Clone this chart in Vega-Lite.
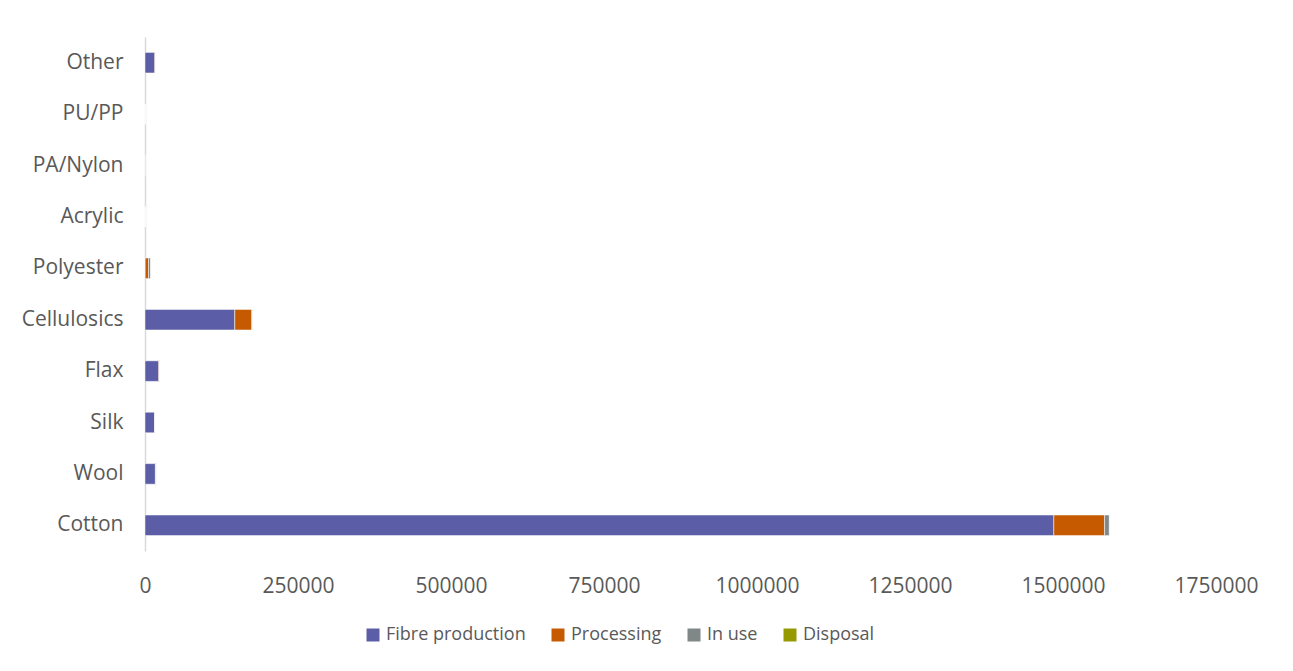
{
  "$schema": "https://vega.github.io/schema/vega-lite/v6.json",
  "autosize": {"type": "none"},
  "padding": {"left": 145, "top": 37, "right": 77, "bottom": 120},
  "width": 1071,
  "height": 514,
  "background": "white",
  "config": {
    "view": {"stroke": null},
    "font": "Open Sans"
  },
  "data": {
    "values": [
      {"fibre": "Cotton", "stage": "Fibre production", "value": 1485000},
      {"fibre": "Cotton", "stage": "Processing", "value": 83000},
      {"fibre": "Cotton", "stage": "In use", "value": 7700},
      {"fibre": "Cotton", "stage": "Disposal", "value": 300},
      {"fibre": "Wool", "stage": "Fibre production", "value": 17000},
      {"fibre": "Wool", "stage": "Processing", "value": 1000},
      {"fibre": "Wool", "stage": "In use", "value": 300},
      {"fibre": "Wool", "stage": "Disposal", "value": 50},
      {"fibre": "Silk", "stage": "Fibre production", "value": 16000},
      {"fibre": "Silk", "stage": "Processing", "value": 300},
      {"fibre": "Silk", "stage": "In use", "value": 100},
      {"fibre": "Silk", "stage": "Disposal", "value": 20},
      {"fibre": "Flax", "stage": "Fibre production", "value": 22500},
      {"fibre": "Flax", "stage": "Processing", "value": 1000},
      {"fibre": "Flax", "stage": "In use", "value": 300},
      {"fibre": "Flax", "stage": "Disposal", "value": 50},
      {"fibre": "Cellulosics", "stage": "Fibre production", "value": 146700},
      {"fibre": "Cellulosics", "stage": "Processing", "value": 27800},
      {"fibre": "Cellulosics", "stage": "In use", "value": 1000},
      {"fibre": "Cellulosics", "stage": "Disposal", "value": 100},
      {"fibre": "Polyester", "stage": "Fibre production", "value": 300},
      {"fibre": "Polyester", "stage": "Processing", "value": 5500},
      {"fibre": "Polyester", "stage": "In use", "value": 3500},
      {"fibre": "Polyester", "stage": "Disposal", "value": 100},
      {"fibre": "Acrylic", "stage": "Fibre production", "value": 100},
      {"fibre": "Acrylic", "stage": "Processing", "value": 200},
      {"fibre": "Acrylic", "stage": "In use", "value": 400},
      {"fibre": "Acrylic", "stage": "Disposal", "value": 20},
      {"fibre": "PA/Nylon", "stage": "Fibre production", "value": 300},
      {"fibre": "PA/Nylon", "stage": "Processing", "value": 1200},
      {"fibre": "PA/Nylon", "stage": "In use", "value": 300},
      {"fibre": "PA/Nylon", "stage": "Disposal", "value": 20},
      {"fibre": "PU/PP", "stage": "Fibre production", "value": 100},
      {"fibre": "PU/PP", "stage": "Processing", "value": 200},
      {"fibre": "PU/PP", "stage": "In use", "value": 400},
      {"fibre": "PU/PP", "stage": "Disposal", "value": 20},
      {"fibre": "Other", "stage": "Fibre production", "value": 16000},
      {"fibre": "Other", "stage": "Processing", "value": 1000},
      {"fibre": "Other", "stage": "In use", "value": 300},
      {"fibre": "Other", "stage": "Disposal", "value": 50}
    ]
  },
  "transform": [
    {"calculate": "indexof(['Fibre production','Processing','In use','Disposal'], datum.stage)", "as": "order"}
  ],
  "mark": {"type": "bar", "stroke": "white", "strokeWidth": 0.5},
  "encoding": {
    "y": {
      "field": "fibre",
      "type": "nominal",
      "sort": ["Other", "PU/PP", "PA/Nylon", "Acrylic", "Polyester", "Cellulosics", "Flax", "Silk", "Wool", "Cotton"],
      "scale": {"paddingInner": 0.6, "paddingOuter": 0.3},
      "axis": {
        "title": null,
        "ticks": false,
        "domainColor": "#d9d9d9",
        "domainWidth": 1.5,
        "labelFontSize": 21,
        "labelColor": "#595959",
        "labelPadding": 22
      }
    },
    "x": {
      "field": "value",
      "type": "quantitative",
      "aggregate": "sum",
      "stack": "zero",
      "scale": {"domain": [0, 1750000], "nice": false},
      "axis": {
        "title": null,
        "values": [0, 250000, 500000, 750000, 1000000, 1250000, 1500000, 1750000],
        "format": "d",
        "grid": false,
        "ticks": false,
        "domain": false,
        "labelFontSize": 21,
        "labelColor": "#595959",
        "labelPadding": 24,
        "labelFlush": false
      }
    },
    "color": {
      "field": "stage",
      "type": "nominal",
      "sort": ["Fibre production", "Processing", "In use", "Disposal"],
      "scale": {
        "domain": ["Fibre production", "Processing", "In use", "Disposal"],
        "range": ["#5B5EA6", "#C55A00", "#7F8787", "#949A00"]
      },
      "legend": {
        "title": null,
        "orient": "none",
        "direction": "horizontal",
        "legendX": 219,
        "legendY": 589,
        "symbolType": "square",
        "symbolSize": 169,
        "symbolStrokeWidth": 0,
        "labelFontSize": 18,
        "labelColor": "#595959",
        "columnPadding": 23,
        "labelOffset": 4
      }
    },
    "order": {"field": "order", "type": "quantitative"}
  }
}
